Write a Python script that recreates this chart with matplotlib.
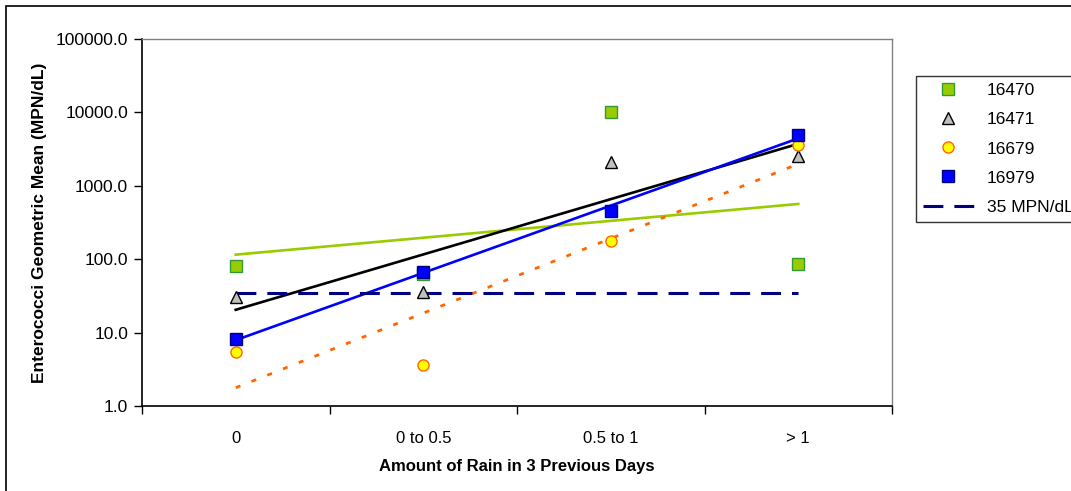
import numpy as np
import matplotlib
matplotlib.use("Agg")
import matplotlib.pyplot as plt
from matplotlib.lines import Line2D
from matplotlib.patches import Rectangle

plt.rcParams['font.family'] = ['Liberation Sans', 'DejaVu Sans']

categories = ["0", "0 to 0.5", "0.5 to 1", "> 1"]
s16470 = [80, 62, 10000, 86]
s16471 = [30.5, 35.7, 2100, 2550]
s16679 = [5.4, 3.6, 177, 3600]
s16979 = [8.2, 67, 454, 4900]
standard = 35

FS = 12.5
FSX = 12

W, H = 1071, 491
fig = plt.figure(figsize=(W / 100, H / 100), dpi=100)
ax = fig.add_axes([142 / W, 1 - 406 / H, 750 / W, 367 / H])

x = np.arange(len(categories))
xt = x + 1  # excel trendlines use 1-based category index


def trend(vals):
    # exponential trendline: straight fit of ln(y) against category index
    b, a = np.polyfit(xt, np.log(vals), 1)
    return np.exp(a + b * xt)


# trendlines
ax.plot(x, trend(s16470), color="#99CC00", lw=1.9, zorder=2)
ax.plot(x, trend(s16471), color="black", lw=1.9, zorder=2)
ax.plot(x, trend(s16679), color="#FF6600", lw=2.0, dashes=(1.8, 4.3), zorder=2)
ax.plot(x, trend(s16979), color="#0000FF", lw=1.9, zorder=2)

# 35 MPN/dL standard
ax.plot([x[0], x[-1]], [standard, standard], color="#000080", lw=2.2,
        dashes=(6.5, 3.6), zorder=2)

# station markers
ax.plot(x, s16470, ls="none", marker="s", ms=8, mfc="#99CC00", mec="#339933", mew=1, zorder=3)
ax.plot(x, s16471, ls="none", marker="^", ms=9, mfc="#C0C0C0", mec="black", mew=1, zorder=3)
ax.plot(x, s16679, ls="none", marker="o", ms=8, mfc="#FFFF00", mec="#FF6600", mew=1, zorder=3)
ax.plot(x, s16979, ls="none", marker="s", ms=8, mfc="#0000FF", mec="#000080", mew=1, zorder=4)

ax.set_yscale("log")
ax.set_ylim(1, 100000)
ax.set_xlim(-0.5, 3.5)
ax.set_yticks([1, 10, 100, 1000, 10000, 100000])
ax.set_yticklabels(["1.0", "10.0", "100.0", "1000.0", "10000.0", "100000.0"])
ax.yaxis.set_minor_locator(matplotlib.ticker.NullLocator())
ax.tick_params(axis="y", direction="out", length=6, width=1, labelsize=FS, pad=4)

# category boundaries get ticks, labels sit in between
ax.set_xticks(np.arange(-0.5, 4, 1))
ax.set_xticklabels([])
ax.set_xticks(x, minor=True)
ax.set_xticklabels(categories, minor=True)
ax.tick_params(axis="x", which="major", direction="out", length=6, width=1)
ax.tick_params(axis="x", which="minor", length=0, labelsize=FSX, pad=18)

for side in ("top", "right"):
    ax.spines[side].set_color("#808080")
    ax.spines[side].set_linewidth(1)
for side in ("left", "bottom"):
    ax.spines[side].set_linewidth(1.2)

ax.set_ylabel("Enterococci Geometric Mean (MPN/dL)", fontsize=FS, fontweight="bold", labelpad=6)
ax.set_xlabel("Amount of Rain in 3 Previous Days", fontsize=FSX, fontweight="bold", labelpad=9)

handles = [
    Line2D([], [], ls="none", marker="s", ms=8, mfc="#99CC00", mec="#339933"),
    Line2D([], [], ls="none", marker="^", ms=9, mfc="#C0C0C0", mec="black"),
    Line2D([], [], ls="none", marker="o", ms=8, mfc="#FFFF00", mec="#FF6600"),
    Line2D([], [], ls="none", marker="s", ms=8, mfc="#0000FF", mec="#000080"),
    Line2D([], [], color="#000080", lw=2.2, dashes=(6.5, 3.6)),
]
labels = ["16470", "16471", "16679", "16979", "35 MPN/dL"]
leg = fig.legend(handles, labels, loc="upper left", bbox_to_anchor=(916 / W, 1 - 76 / H),
                 borderaxespad=0, fontsize=FS, frameon=True, fancybox=False,
                 edgecolor="black", borderpad=0.42, labelspacing=0.8,
                 handlelength=2.9, handletextpad=0.75)
leg.get_frame().set_linewidth(1)

# chart area border
fig.patches.append(Rectangle((6 / W, -0.05), 1.1, 1 - 6 / H + 0.05, transform=fig.transFigure,
                             fill=False, edgecolor="black", lw=1.2))

fig.savefig("out.png", dpi=100)
